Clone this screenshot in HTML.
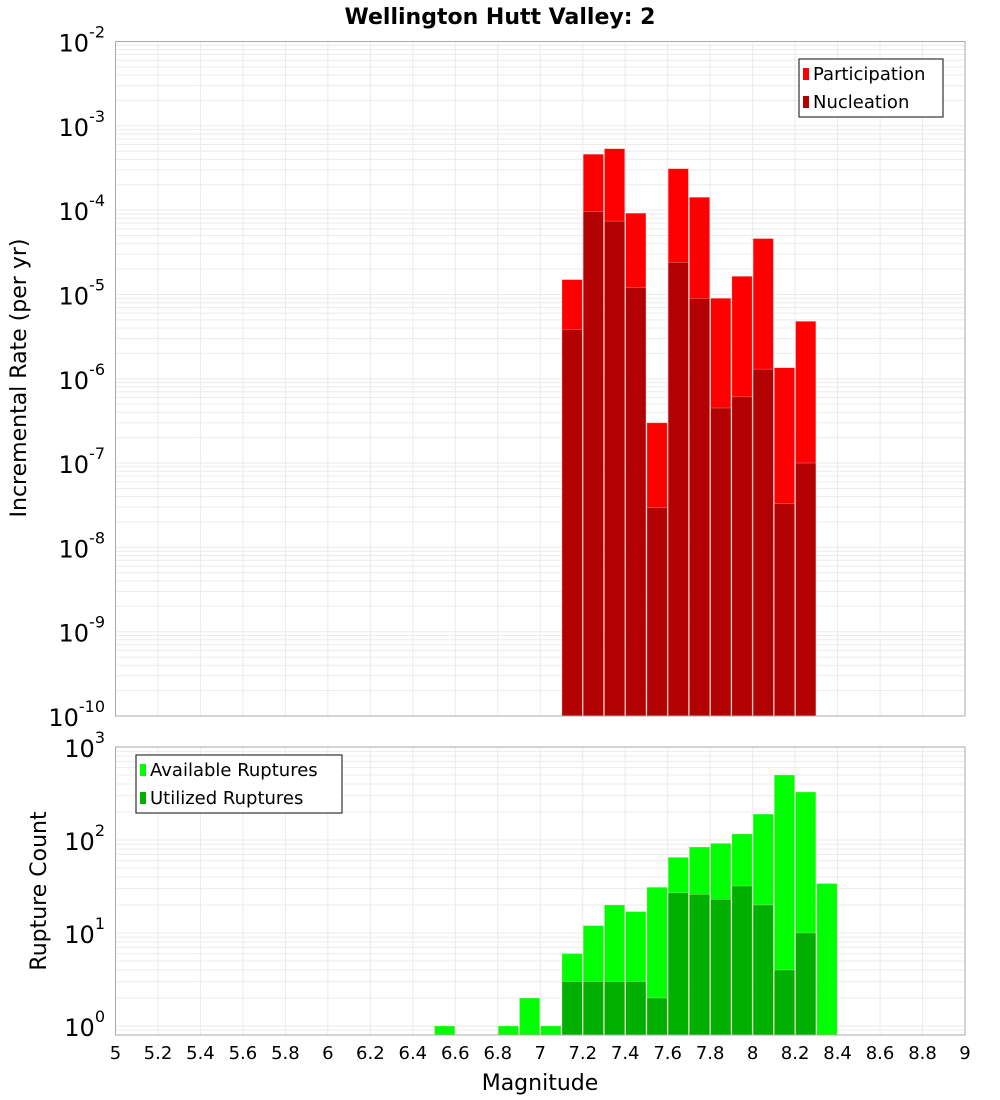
<!DOCTYPE html>
<html><head><meta charset="utf-8"><style>
body{margin:0;background:#fff;}
svg{display:block;font-family:"DejaVu Sans","Liberation Sans",sans-serif;}
</style></head><body>
<svg id="c" width="1000" height="1100"></svg>
<script>
const mags=[6.55,6.85,6.95,7.05,7.15,7.25,7.35,7.45,7.55,7.65,7.75,7.85,7.95,8.05,8.15,8.25,8.35];
const partRate=[0,0,0,0,1.5e-5,4.6e-4,5.35e-4,9.2e-5,3.0e-7,3.1e-4,1.42e-4,9.0e-6,1.64e-5,4.6e-5,1.35e-6,4.8e-6,0];
const nuclRate=[0,0,0,0,3.85e-6,9.6e-5,7.4e-5,1.2e-5,2.95e-8,2.4e-5,9.0e-6,4.5e-7,6.1e-7,1.3e-6,3.3e-8,1.0e-7,0];
const availCount=[1,1,2,1,6,12,20,17,31,65,84,92,116,190,500,328,34];
const usedCount=[0,0,0,0,3,3,3,3,2,27,26,23,32,20,4,10,0];
const xTicks=[5,5.2,5.4,5.6,5.8,6,6.2,6.4,6.6,6.8,7,7.2,7.4,7.6,7.8,8,8.2,8.4,8.6,8.8,9];
const topExp=[-2,-3,-4,-5,-6,-7,-8,-9,-10];
const botExp=[3,2,1,0];

const NS="http://www.w3.org/2000/svg";
const svg=document.getElementById('c');
function mk(t,a,p){const e=document.createElementNS(NS,t);for(const k in a)e.setAttribute(k,a[k]);(p||svg).appendChild(e);return e;}
const L=115.5,R=965;
const x=m=>L+(m-5)*(R-L)/4;
const T={top:41.5,bot:716,lmax:-2,lmin:-10};
const B={top:747,bot:1035,lmax:3,lmin:Math.log10(0.8)};
const yOf=(P,v)=>P.top+(P.lmax-Math.log10(v))*(P.bot-P.top)/(P.lmax-P.lmin);

function grid(P,name){
  const g=mk('g',{});
  
  
  for(let d=Math.floor(P.lmin);d<P.lmax;d++)for(let k=1;k<=9;k++){
    const v=k*Math.pow(10,d);const lv=Math.log10(v);
    if(lv<P.lmin||lv>P.lmax)continue;
    const y=yOf(P,v);mk('line',{x1:L,x2:R,y1:y,y2:y,stroke:'#ebebeb','stroke-width':1},g);
  }
  xTicks.forEach(t=>{mk('line',{x1:x(t),x2:x(t),y1:P.top,y2:P.bot,stroke:'#ebebeb','stroke-width':1},g);});
}
function frame(P,name){
  const r=mk('rect',{x:L,y:P.top,width:R-L,height:P.bot-P.top,fill:'none',stroke:'#aaa','stroke-width':1});
  
  
}
function bars(P,vals,color,name){
  const w=(R-L)/40;
  vals.forEach((v,i)=>{
    if(!(v>0))return;
    const y=Math.max(P.top,yOf(P,v));
    const r=mk('rect',{x:x(mags[i])-w/2+0.5,y:y,width:w-1,height:P.bot-y,fill:color,stroke:'#ffd0d0','stroke-width':0.5,'stroke-opacity':0.6});
    
    
  });
}
function yLabels(P,exps,name){
  exps.forEach(e=>{
    const y=yOf(P,Math.pow(10,e));
    const t=mk('text',{x:105,y:y+10,'text-anchor':'end','font-size':24,fill:'#000'});
    
    
    const a=mk('tspan',{},t);a.textContent='10';
    const b=mk('tspan',{dy:-14,'font-size':16},t);b.textContent=String(e);
  });
}
function legend(xp,yp,w,items,name){
  const g=mk('g',{});
  
  
  mk('rect',{x:xp,y:yp,width:w,height:58,fill:'#fff',stroke:'#333','stroke-width':1.2},g);
  items.forEach((it,i)=>{
    mk('rect',{x:xp+4,y:yp+9+i*28,width:6,height:12,fill:it[1]},g);
    const t=mk('text',{x:xp+14,y:yp+21+i*28,'font-size':18,fill:'#000'},g);t.textContent=it[0];
  });
}

grid(T,'top');grid(B,'bottom');
bars(T,partRate,'#ff0000','participation');
bars(T,nuclRate,'#b30000','nucleation');
bars(B,availCount,'#00ff00','available');
bars(B,usedCount,'#00b000','utilized');
frame(T,'top');frame(B,'bottom');
yLabels(T,topExp,'top');yLabels(B,botExp,'bottom');
xTicks.forEach(t=>{
  const e=mk('text',{x:x(t),y:1059,'text-anchor':'middle','font-size':18,fill:'#000'});
  
  
  e.textContent=String(t);
});
legend(799,59,144,[['Participation','#ff0000'],['Nucleation','#b30000']],'top-legend');
legend(136,755,206,[['Available Ruptures','#00ff00'],['Utilized Ruptures','#00b000']],'bottom-legend');

let t=mk('text',{x:500,y:24,'text-anchor':'middle','font-size':22,'font-weight':'bold',fill:'#000'});
t.textContent='Wellington Hutt Valley: 2';
t=mk('text',{x:540,y:1090,'text-anchor':'middle','font-size':22,fill:'#000'});
t.textContent='Magnitude';
t=mk('text',{x:0,y:0,'text-anchor':'middle','font-size':22,fill:'#000',transform:'translate(26,378) rotate(-90)'});
t.textContent='Incremental Rate (per yr)';
t=mk('text',{x:0,y:0,'text-anchor':'middle','font-size':22,fill:'#000',transform:'translate(46,891) rotate(-90)'});
t.textContent='Rupture Count';
</script>
</body></html>
